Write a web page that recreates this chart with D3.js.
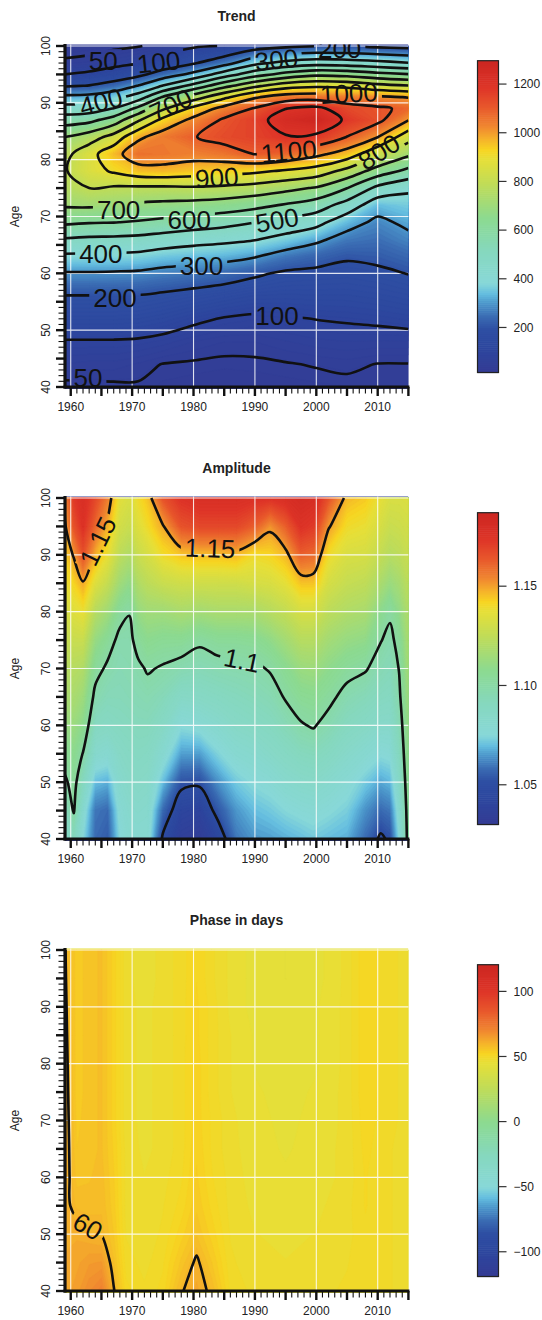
<!DOCTYPE html>
<html><head><meta charset="utf-8">
<script src="https://cdn.jsdelivr.net/npm/d3@7"></script>
<style>
body{margin:0;background:#fff}
svg{display:block}
text{font-family:"Liberation Sans",Arial,Helvetica,sans-serif;fill:#222}
</style>
</head><body>
<svg id="chart" width="542" height="1320"></svg>
<script>
// ---------- palette (colour bar, bottom -> top) ----------
const paletteStops  = [0, 0.079, 0.14, 0.18, 0.226, 0.255, 0.288, 0.39, 0.497, 0.6, 0.685, 0.714, 0.747, 0.789, 0.852, 0.914, 1];
const paletteColors = ['#343B94','#2D469E','#2E4FA3','#3A6BB3','#4E9ACD','#66BFE0','#88D8D8','#86D8BE','#8CDA90','#BDDC5A','#E6DF38','#F7D621','#F6B62A','#F08830','#E8582C','#DE3528','#CC2621'];

// ---------- axes ----------
const yearTicks = [1960, 1970, 1980, 1990, 2000, 2010];
const ageTicks = [40, 50, 60, 70, 80, 90, 100];

// ---------- Trend ----------
const trendYears = [1959, 1963, 1967, 1971, 1975, 1980, 1985, 1990, 1995, 2000, 2005, 2010, 2015];
const trendAges  = [40, 44, 48, 52, 56, 60, 63, 66, 69, 72, 75, 78, 81, 84, 87, 89, 91, 93, 95, 97, 100];
const trendGrid = [ // one row per year, values at trendAges
  [42, 69, 96, 145, 197, 293, 384, 493, 618, 711, 760, 792, 770, 700, 550, 441, 324, 191, 100, 58, 30],
  [44, 66, 96, 145, 197, 293, 382, 483, 607, 714, 800, 860, 865, 750, 571, 450, 329, 203, 113, 63, 35],
  [45, 66, 96, 145, 197, 290, 381, 480, 603, 702, 786, 913, 963, 837, 643, 503, 365, 240, 139, 77, 42],
  [47, 59, 93, 143, 196, 286, 375, 473, 592, 685, 783, 957, 1065, 980, 785, 625, 450, 303, 178, 96, 48],
  [40, 49, 85, 132, 186, 271, 356, 455, 577, 676, 781, 967, 1053, 1046, 925, 783, 609, 404, 243, 136, 60],
  [38, 46, 70, 112, 171, 257, 343, 436, 555, 667, 787, 950, 1036, 1095, 1024, 929, 750, 533, 327, 191, 90],
  [36, 44, 61, 96, 156, 241, 332, 423, 532, 654, 777, 936, 1055, 1136, 1114, 1032, 880, 667, 450, 262, 103],
  [37, 45, 61, 89, 141, 213, 307, 406, 502, 628, 760, 918, 1103, 1155, 1163, 1108, 990, 778, 560, 373, 150],
  [38, 48, 69, 95, 139, 188, 261, 368, 469, 591, 728, 889, 1080, 1193, 1250, 1198, 1046, 856, 633, 430, 180],
  [40, 52, 76, 101, 141, 182, 234, 320, 433, 550, 691, 856, 1025, 1179, 1290, 1226, 1058, 880, 678, 460, 195],
  [42, 56, 79, 105, 141, 177, 209, 264, 340, 460, 602, 771, 956, 1098, 1181, 1142, 1043, 870, 667, 450, 195],
  [46, 49, 78, 110, 148, 186, 217, 250, 280, 340, 475, 656, 825, 1003, 1125, 1117, 1017, 830, 630, 430, 180],
  [44, 49, 78, 118, 159, 202, 239, 279, 320, 362, 417, 575, 720, 840, 1004, 1080, 996, 805, 606, 405, 170]
];
const trendLevels = [50, 100, 200, 300, 400, 500, 600, 700, 800, 900, 1000, 1100, 1200];
const trendLabels = [ // text, year, age, angle
  ['50', 1965.3, 97.5, 0], ['100', 1974.3, 97.2, -6], ['300', 1993.5, 97.6, -6], ['200', 2003.8, 99.6, 0],
  ['400', 1964.9, 90.2, -15], ['700', 1976.3, 89.6, -25], ['1000', 2005.3, 91.7, -3],
  ['1100', 1995.5, 81.5, -5], ['800', 2010.2, 81.4, -32], ['900', 1983.8, 76.9, -4],
  ['700', 1967.8, 71.2, 0], ['600', 1979.3, 69.5, 0], ['500', 1993.6, 69.4, -10],
  ['400', 1964.9, 63.4, 0], ['300', 1981.3, 61.3, 0], ['200', 1967.2, 55.8, 0],
  ['100', 1993.6, 52.6, 0], ['50', 1962.8, 41.7, 0]
];
const trendDomain = [15, 1296];
const trendBarTicks = [200, 400, 600, 800, 1000, 1200];

// ---------- Amplitude ----------
const ampYears = [1959, 1960.5, 1962, 1964, 1966, 1968, 1969.5, 1971, 1972.5, 1975, 1978, 1981, 1984, 1987, 1990, 1992.5, 1995, 1997.5, 1999.5, 2002, 2005, 2008, 2010.5, 2012, 2013.5, 2015];
const ampAges  = [40, 45, 50, 55, 60, 65, 70, 75, 80, 85, 90, 95, 100];
const ampGrid = [
  [1.085, 1.090, 1.098, 1.105, 1.112, 1.118, 1.122, 1.127, 1.132, 1.138, 1.143, 1.148, 1.152],
  [1.090, 1.101, 1.104, 1.108, 1.113, 1.118, 1.122, 1.128, 1.135, 1.142, 1.151, 1.165, 1.172],
  [1.075, 1.080, 1.090, 1.0995, 1.108, 1.114, 1.120, 1.128, 1.138, 1.149, 1.165, 1.175, 1.178],
  [1.058, 1.060, 1.070, 1.082, 1.090, 1.097, 1.104, 1.112, 1.122, 1.135, 1.148, 1.160, 1.168],
  [1.055, 1.058, 1.068, 1.080, 1.088, 1.093, 1.098, 1.105, 1.115, 1.127, 1.138, 1.148, 1.156],
  [1.075, 1.078, 1.082, 1.086, 1.090, 1.093, 1.095, 1.097, 1.104, 1.115, 1.124, 1.131, 1.136],
  [1.080, 1.082, 1.085, 1.088, 1.091, 1.094, 1.096, 1.097, 1.1005, 1.110, 1.120, 1.128, 1.133],
  [1.080, 1.083, 1.086, 1.089, 1.092, 1.095, 1.098, 1.104, 1.112, 1.120, 1.128, 1.135, 1.140],
  [1.080, 1.082, 1.085, 1.088, 1.092, 1.096, 1.101, 1.108, 1.115, 1.124, 1.132, 1.140, 1.145],
  [1.048, 1.058, 1.070, 1.080, 1.087, 1.093, 1.099, 1.106, 1.115, 1.128, 1.140, 1.149, 1.165],
  [1.036, 1.042, 1.053, 1.066, 1.076, 1.086, 1.096, 1.106, 1.118, 1.130, 1.145, 1.165, 1.175],
  [1.034, 1.040, 1.052, 1.066, 1.078, 1.087, 1.094, 1.102, 1.116, 1.130, 1.146, 1.168, 1.178],
  [1.043, 1.054, 1.064, 1.074, 1.082, 1.089, 1.096, 1.105, 1.118, 1.130, 1.146, 1.168, 1.178],
  [1.060, 1.065, 1.072, 1.080, 1.086, 1.091, 1.097, 1.105, 1.118, 1.130, 1.147, 1.168, 1.178],
  [1.065, 1.070, 1.076, 1.082, 1.088, 1.093, 1.098, 1.106, 1.118, 1.132, 1.140, 1.162, 1.176],
  [1.066, 1.072, 1.078, 1.085, 1.090, 1.095, 1.101, 1.110, 1.122, 1.133, 1.142, 1.152, 1.175],
  [1.068, 1.075, 1.082, 1.088, 1.094, 1.101, 1.107, 1.116, 1.126, 1.137, 1.147, 1.162, 1.178],
  [1.070, 1.077, 1.084, 1.091, 1.099, 1.106, 1.113, 1.122, 1.132, 1.145, 1.162, 1.175, 1.182],
  [1.072, 1.078, 1.085, 1.092, 1.101, 1.107, 1.114, 1.122, 1.132, 1.145, 1.160, 1.172, 1.180],
  [1.070, 1.076, 1.082, 1.089, 1.096, 1.103, 1.109, 1.116, 1.124, 1.132, 1.140, 1.151, 1.165],
  [1.068, 1.073, 1.078, 1.084, 1.090, 1.096, 1.104, 1.112, 1.120, 1.127, 1.133, 1.140, 1.147],
  [1.058, 1.064, 1.072, 1.080, 1.087, 1.093, 1.101, 1.110, 1.118, 1.125, 1.132, 1.138, 1.144],
  [1.048, 1.058, 1.067, 1.076, 1.084, 1.090, 1.095, 1.1005, 1.108, 1.118, 1.126, 1.132, 1.137],
  [1.052, 1.060, 1.069, 1.077, 1.084, 1.089, 1.093, 1.097, 1.102, 1.113, 1.122, 1.128, 1.133],
  [1.075, 1.080, 1.085, 1.090, 1.094, 1.098, 1.1005, 1.104, 1.110, 1.117, 1.124, 1.129, 1.133],
  [1.105, 1.106, 1.108, 1.110, 1.112, 1.114, 1.116, 1.118, 1.120, 1.124, 1.128, 1.131, 1.134]
];
const ampLevels = [1.05, 1.1, 1.15];
const ampLabels = [
  ['1.15', 1964.4, 92.4, -64], ['1.15', 1982.7, 91.2, 2], ['1.1', 1987.9, 71.5, 12]
];
const ampDomain = [1.030, 1.187];
const ampBarTicks = [1.05, 1.10, 1.15];

// ---------- Phase ----------
const phaseYears = [1959, 1961, 1963, 1965, 1967, 1969, 1972, 1975, 1978, 1980.5, 1983, 1986, 1990, 1995, 2000, 2005, 2008, 2011, 2015];
const phaseAges  = [40, 45, 50, 55, 60, 65, 70, 75, 80, 85, 90, 95, 100];
const phaseGrid = [
  [63, 62.5, 62, 61.3, 62.4, 62.7, 62.5, 62.2, 61.8, 61.4, 61.05, 60.7, 60.45],
  [65, 63.5, 62, 58.5, 56.5, 55.5, 55, 54.5, 54.5, 54.5, 54.5, 54.5, 54.5],
  [69, 65.5, 60.8, 58, 57, 56.5, 56.5, 56.5, 56.5, 56.5, 56.5, 56.5, 56.5],
  [72, 66, 59.8, 58.5, 58, 57.5, 57.5, 57.5, 57.5, 57.5, 57.5, 57.5, 57.5],
  [60.5, 57.5, 55.5, 54.5, 54, 53.5, 53, 53, 53, 53, 53, 53, 53],
  [51, 49.5, 48.5, 48, 48, 48, 47.5, 47.5, 47.5, 47.5, 47.5, 47.5, 47.5],
  [49, 48, 47.5, 47, 47, 46.5, 46.5, 46.5, 46.5, 46.5, 46.5, 46, 46],
  [51, 50, 49, 48.5, 48, 47.5, 47.5, 47.5, 47.5, 47.5, 47.5, 47.5, 47.5],
  [59.5, 56, 53, 51, 50, 49.5, 49.5, 49.5, 49.5, 49.5, 49.5, 49.5, 49.5],
  [63, 61, 57, 55, 54, 53.5, 53, 53, 53, 52.5, 52.5, 52, 52],
  [58.5, 55.5, 53, 51.5, 50.5, 50, 50, 49.5, 49.5, 49.5, 49.5, 49, 49],
  [50, 49, 48.5, 48, 48, 47.5, 47.5, 47, 47, 47, 46.5, 46.5, 46.5],
  [48, 47.5, 47, 46.5, 46, 46, 45.5, 45.5, 45, 45, 44.5, 44.5, 44.5],
  [47.5, 47, 46.5, 46, 45.5, 45, 45, 44.5, 44.5, 44, 44, 43.5, 43.5],
  [48, 47.5, 47, 46.5, 46, 46, 45.5, 45.5, 45, 45, 45, 44.5, 44.5],
  [49, 48.5, 48, 48, 47.5, 47.5, 47.5, 47.5, 47.5, 47.5, 47.5, 47.5, 47.5],
  [50, 50, 50, 50.5, 50.5, 51, 51.5, 52, 52, 52, 52, 52, 52],
  [49, 49, 49, 49, 49, 49, 49.5, 49.5, 49.5, 49.5, 49.5, 49.5, 49.5],
  [48, 48, 48, 48, 48, 48, 48, 48, 48, 48, 48, 48, 48]
];
const phaseLevels = [60];
const phaseLabels = [['60', 1962.8, 51.4, 30]];
const phaseDomain = [-119, 120.5];
const phaseBarTicks = [-100, -50, 0, 50, 100];

// ---------- drawing ----------
const svg = d3.select('#chart');
const defs = svg.append('defs');
const palette = d3.scaleLinear().domain(paletteStops).range(paletteColors).interpolate(d3.interpolateRgb).clamp(true);
const x = d3.scaleLinear().domain([1959, 2015]).range([64.6, 408.4]);

function drawPanel(cfg) {
  const off = cfg.offset;
  const y = d3.scaleLinear().domain([40, 100]).range([387 + off, 46 + off]);
  const nx = cfg.years.length, ny = cfg.ages.length;
  const values = new Array(nx * ny);
  for (let j = 0; j < ny; j++) for (let i = 0; i < nx; i++) values[j * nx + i] = cfg.grid[i][j];
  const xi = d3.scaleLinear().domain(d3.range(nx)).range(cfg.years);
  const yi = d3.scaleLinear().domain(d3.range(ny)).range(cfg.ages);
  const px = c => x(xi(Math.max(0, Math.min(nx - 1, c - 0.5))));
  const py = c => y(yi(Math.max(0, Math.min(ny - 1, c - 0.5))));
  const [dmin, dmax] = cfg.domain;
  const color = v => palette((v - dmin) / (dmax - dmin));

  const clipId = 'clip' + cfg.id;
  defs.append('clipPath').attr('id', clipId).append('rect')
    .attr('x', x(1959)).attr('y', y(100) - 1.5)
    .attr('width', x(2015) - x(1959)).attr('height', y(40) - y(100) + 3.5);

  const g = svg.append('g');
  const heat = g.append('g').attr('clip-path', `url(#${clipId})`);
  const vmin = d3.min(values);
  heat.append('rect').attr('x', x(1959)).attr('y', y(100) - 2)
    .attr('width', x(2015) - x(1959)).attr('height', y(40) - y(100) + 5).attr('fill', color(vmin));
  const nLev = 140, step = (dmax - dmin) / nLev;
  const th = d3.range(1, nLev).map(k => dmin + k * step).filter(t => t > vmin);
  const bands = d3.contours().size([nx, ny]).thresholds(th)(values);
  const ringPath = mp => mp.coordinates.map(poly => poly.map(ring =>
      'M' + ring.map(p => px(p[0]).toFixed(2) + ',' + py(p[1]).toFixed(2)).join('L') + 'Z').join('')).join('');
  heat.selectAll('path.band').data(bands).join('path').attr('class', 'band')
    .attr('d', ringPath).attr('fill-rule', 'evenodd')
    .attr('fill', d => color(d.value + step / 2))
    .attr('stroke', d => color(d.value + step / 2)).attr('stroke-width', 0.4);

  // white grid
  const grid = g.append('g').attr('stroke', '#fff').attr('stroke-width', 1.1).attr('opacity', 0.85);
  yearTicks.forEach(t => grid.append('line').attr('x1', x(t)).attr('x2', x(t)).attr('y1', y(100) - 1.5).attr('y2', y(40)));
  ageTicks.filter(a => a > 40).forEach(a => grid.append('line').attr('x1', x(1959)).attr('x2', x(2015)).attr('y1', y(a)).attr('y2', y(a)));

  // contour lines
  const isEdge = p => p[0] <= 0 || p[0] >= nx || p[1] <= 0 || p[1] >= ny;
  const openLine = d3.line().x(p => px(p[0])).y(p => py(p[1])).curve(d3.curveCatmullRom.alpha(0.5));
  const closedLine = d3.line().x(p => px(p[0])).y(p => py(p[1])).curve(d3.curveCatmullRomClosed.alpha(0.5));
  const linesG = g.append('g').attr('clip-path', `url(#${clipId})`);
  const labelG = g.append('g').attr('clip-path', `url(#${clipId})`);
  const fs = 26;

  const labelBoxes = {};
  cfg.labels.forEach(([txt, yr, age, ang]) => {
    const lx = x(yr), ly = y(age);
    const t = labelG.append('text').text(txt)
      .attr('transform', `translate(${lx},${ly}) rotate(${ang})`)
      .attr('text-anchor', 'middle').attr('dy', '0.36em')
      .style('font-size', fs + 'px').style('fill', '#111');
    const w = t.node().getComputedTextLength() + 8;
    const key = String(parseFloat(txt));
    (labelBoxes[key] = labelBoxes[key] || []).push({lx, ly, ang, w, h: fs * 0.85});
  });

  cfg.levels.forEach((lev, li) => {
    const mp = d3.contours().size([nx, ny]).thresholds([lev])(values)[0];
    const runs = [];
    mp.coordinates.forEach(poly => poly.forEach(ring => {
      let pts = ring.slice();
      const a = pts[0], b = pts[pts.length - 1];
      if (pts.length > 1 && a[0] === b[0] && a[1] === b[1]) pts.pop();
      pts = pts.filter((p, k) => k === 0 || p[0] !== pts[k - 1][0] || p[1] !== pts[k - 1][1]);
      const n = pts.length;
      const e0 = pts.findIndex(isEdge);
      if (e0 < 0) { runs.push({closed: true, pts}); return; }
      let cur = [];
      for (let k = 1; k <= n; k++) {
        const p = pts[(e0 + k) % n];
        if (isEdge(p)) { if (cur.length > 1) runs.push({closed: false, pts: cur}); cur = []; }
        else cur.push(p);
      }
      if (cur.length > 1) runs.push({closed: false, pts: cur});
    }));
    const key = String(lev);
    const holder = linesG.append('g');
    if (labelBoxes[key]) {
      const mid = 'mask' + cfg.id + '_' + li;
      const m = defs.append('mask').attr('id', mid).attr('maskUnits', 'userSpaceOnUse')
        .attr('x', 0).attr('y', 0).attr('width', 542).attr('height', 1320);
      m.append('rect').attr('width', 542).attr('height', 1320).attr('fill', '#fff');
      labelBoxes[key].forEach(bx => m.append('rect')
        .attr('x', -bx.w / 2).attr('y', -bx.h / 2).attr('width', bx.w).attr('height', bx.h)
        .attr('transform', `translate(${bx.lx},${bx.ly}) rotate(${bx.ang})`).attr('fill', '#000'));
      holder.attr('mask', `url(#${mid})`);
    }
    holder.selectAll('path').data(runs).join('path')
      .attr('d', r => r.closed ? closedLine(r.pts) : openLine(r.pts))
      .attr('fill', 'none').attr('stroke', '#111').attr('stroke-width', 2.6);
  });
  labelG.raise();

  // axes
  const ax = g.append('g').attr('stroke', '#111');
  const axX = x(1959) + 0.4, axY = y(40);
  d3.range(40, 101).forEach(a => {
    const major = a % 5 === 0;
    ax.append('line').attr('x1', axX).attr('x2', axX - (major ? 9 : 6.5))
      .attr('y1', y(a)).attr('y2', y(a)).attr('stroke-width', major ? 2.4 : 1.1);
  });
  d3.range(1960, 2016).forEach(yr => {
    const major = yr % 5 === 0;
    ax.append('line').attr('x1', x(yr)).attr('x2', x(yr))
      .attr('y1', axY).attr('y2', axY + (major ? 9 : 6.5)).attr('stroke-width', major ? 2.4 : 1.1);
  });
  ax.append('line').attr('x1', axX).attr('x2', axX).attr('y1', y(100) - 2).attr('y2', axY + 1.5).attr('stroke-width', 3.2);
  ax.append('line').attr('x1', axX - 1.5).attr('x2', x(2015) + 1).attr('y1', axY).attr('y2', axY).attr('stroke-width', 3.2);

  const tl = g.append('g').style('font-size', '12px');
  yearTicks.forEach(t => tl.append('text').attr('x', x(t)).attr('y', axY + 24).attr('text-anchor', 'middle').text(t));
  ageTicks.forEach(a => tl.append('text').attr('transform', `translate(49.5,${y(a)}) rotate(-90)`).attr('text-anchor', 'middle').text(a));
  tl.append('text').attr('transform', `translate(19,${(y(40) + y(100)) / 2}) rotate(-90)`).attr('text-anchor', 'middle').text('Age');
  g.append('text').attr('x', (x(1959) + x(2015)) / 2).attr('y', 21 + off).attr('text-anchor', 'middle')
    .style('font-size', '14px').style('font-weight', 'bold').text(cfg.title);

  // colour bar
  const cy = d3.scaleLinear().domain(cfg.domain).range([372.5 + off, 60.7 + off]);
  const cb = g.append('g');
  const nSeg = 160, bx0 = 477.5, bw = 21;
  d3.range(nSeg).forEach(k => {
    const v0 = dmin + k * (dmax - dmin) / nSeg, v1 = dmin + (k + 1) * (dmax - dmin) / nSeg;
    cb.append('rect').attr('x', bx0).attr('width', bw).attr('y', cy(v1)).attr('height', cy(v0) - cy(v1) + 0.6)
      .attr('fill', color((v0 + v1) / 2));
  });
  cb.append('rect').attr('x', bx0).attr('width', bw).attr('y', cy(dmax)).attr('height', cy(dmin) - cy(dmax))
    .attr('fill', 'none').attr('stroke', '#222').attr('stroke-width', 1.2);
  cfg.barTicks.forEach(t => {
    cb.append('line').attr('x1', bx0 + bw).attr('x2', bx0 + bw + 8).attr('y1', cy(t)).attr('y2', cy(t))
      .attr('stroke', '#333').attr('stroke-width', 1.2);
    cb.append('text').attr('x', bx0 + bw + 15).attr('y', cy(t) + 4.3).style('font-size', '12px').text(cfg.fmt(t));
  });
}

drawPanel({id: 't', offset: 0, title: 'Trend', years: trendYears, ages: trendAges, grid: trendGrid,
  domain: trendDomain, levels: trendLevels, labels: trendLabels, barTicks: trendBarTicks, fmt: d => String(d)});
drawPanel({id: 'a', offset: 452, title: 'Amplitude', years: ampYears, ages: ampAges, grid: ampGrid,
  domain: ampDomain, levels: ampLevels, labels: ampLabels, barTicks: ampBarTicks, fmt: d => d.toFixed(2)});
drawPanel({id: 'p', offset: 904, title: 'Phase in days', years: phaseYears, ages: phaseAges, grid: phaseGrid,
  domain: phaseDomain, levels: phaseLevels, labels: phaseLabels, barTicks: phaseBarTicks,
  fmt: d => (d < 0 ? '\u2212' + Math.abs(d) : String(d))});
</script>
</body></html>
